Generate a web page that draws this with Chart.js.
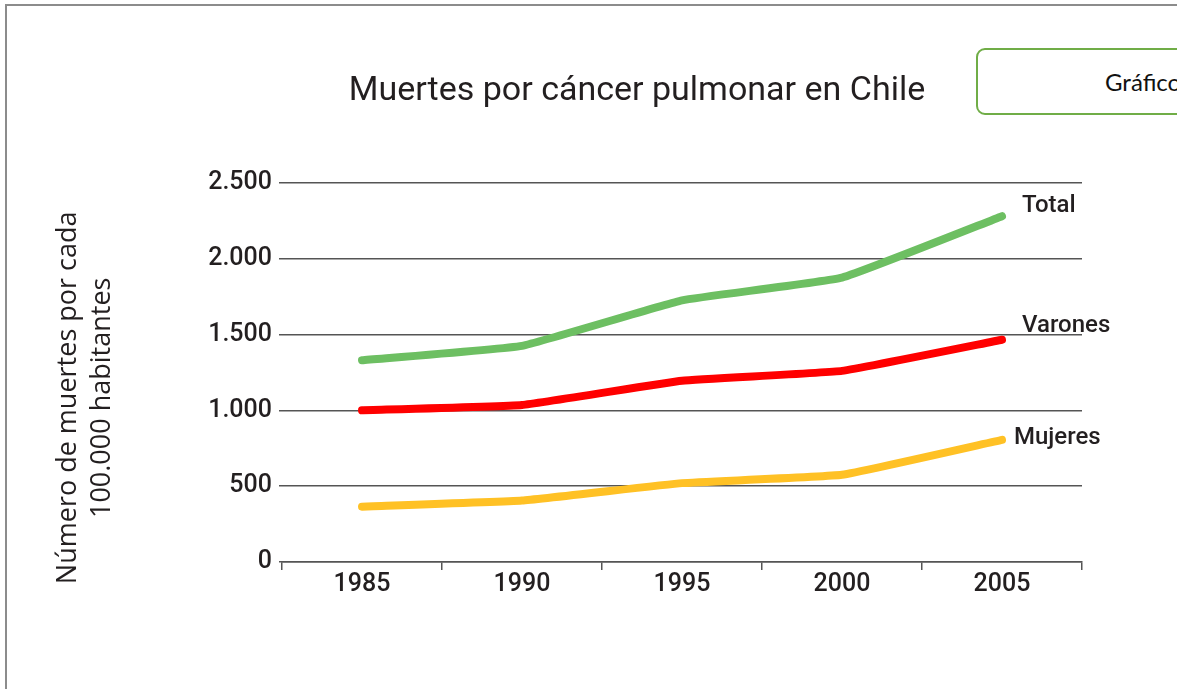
<!DOCTYPE html>
<html>
<head>
<meta charset="utf-8">
<script src="https://cdn.jsdelivr.net/npm/chart.js@4"></script>
<style>
html,body{margin:0;padding:0;background:#fff;overflow:hidden;width:1177px;height:689px;}
#frame{position:absolute;left:5px;top:4px;width:1300px;height:800px;border:2px solid #8c8c8c;box-sizing:border-box;}
#tag{position:absolute;left:976px;top:48px;width:320px;height:67px;border:2px solid #70ad47;border-radius:9px;box-sizing:border-box;
  font:24px Lato,sans-serif;color:#111;padding-left:127px;line-height:63px;white-space:nowrap;}
#chart{position:absolute;left:0;top:0;}
</style>
</head>
<body>
<div id="frame"></div>
<div id="tag">Gráfico</div>
<canvas id="chart" width="1177" height="689"></canvas>
<script>
// data
const years = ['1985', '1990', '1995', '2000', '2005'];
const total = [1330, 1425, 1725, 1875, 2280];
const varones = [1000, 1035, 1195, 1260, 1465];
const mujeres = [365, 405, 520, 575, 805];
const seriesNames = ['Total', 'Varones', 'Mujeres'];
const yTitle = ['Número de muertes por cada', '100.000 habitantes'];

const ink = '#231f20';

function fmt(v){
	return String(v).replace(/\B(?=(\d{3})+(?!\d))/g, '.');
}

// names at the end of each line
const endLabels = {
	id: 'endLabels',
	afterDatasetsDraw(chart){
		const ctx = chart.ctx;
		const offs = [[20, -10], [20, -14], [12, -2]];
		ctx.save();
		ctx.font = '500 24px Roboto';
		ctx.fillStyle = ink;
		ctx.textAlign = 'left';
		ctx.textBaseline = 'middle';
		chart.data.datasets.forEach((ds, i) => {
			const meta = chart.getDatasetMeta(i);
			const pt = meta.data[meta.data.length - 1];
			ctx.fillText(ds.label, pt.x + offs[i][0], pt.y + offs[i][1]);
		});
		ctx.restore();
	}
};

// rotated two line y axis title, sits left of the tick labels
const sideTitle = {
	id: 'sideTitle',
	afterDraw(chart){
		const ctx = chart.ctx;
		const a = chart.chartArea;
		ctx.save();
		ctx.font = '27px "Open Sans"';
		ctx.fillStyle = ink;
		ctx.textAlign = 'center';
		ctx.textBaseline = 'middle';
		ctx.translate(a.left - 214, a.top + 215);
		ctx.rotate(-Math.PI / 2);
		yTitle.forEach((t, i) => ctx.fillText(t, 0, i * 34));
		ctx.restore();
	}
};

new Chart(document.getElementById('chart').getContext('2d'), {
	type: 'line',
	data: {
		labels: years,
		datasets: [
			{ label: seriesNames[0], data: total, borderColor: '#6dbf62' },
			{ label: seriesNames[1], data: varones, borderColor: '#ff0000' },
			{ label: seriesNames[2], data: mujeres, borderColor: '#ffc125' }
		]
	},
	options: {
		responsive: false,
		animation: false,
		layout: { padding: { left: 192, right: 95, top: 0, bottom: 0 } },
		elements: {
			line: { borderWidth: 8, tension: 0.1, borderCapStyle: 'round', borderJoinStyle: 'round' },
			point: { radius: 0 }
		},
		plugins: {
			legend: { display: false },
			tooltip: { enabled: false },
			title: {
				display: true,
				text: 'Muertes por cáncer pulmonar en Chile',
				color: ink,
				font: { family: 'Roboto', size: 34, weight: 'normal' },
				padding: { top: 71, bottom: 71 }
			}
		},
		scales: {
			x: {
				offset: true,
				grid: { offset: true, drawOnChartArea: false, drawTicks: true, tickLength: 8, color: '#555', lineWidth: 1.5 },
				border: { display: true, color: '#555', width: 1.5 },
				ticks: { color: ink, font: { family: 'Roboto', size: 25, weight: 500 }, padding: 0, maxRotation: 0 },
				afterFit(s){ s.height = 127; }
			},
			y: {
				min: 0,
				max: 2500,
				ticks: { stepSize: 500, color: ink, font: { family: 'Roboto', size: 25, weight: 500 }, padding: 7, callback: v => fmt(v) },
				grid: { color: '#555', lineWidth: 1.5, tickLength: 3 },
				border: { display: false },
				afterFit(s){ s.width = 90; }
			}
		}
	},
	plugins: [endLabels, sideTitle]
});
</script>
</body>
</html>
